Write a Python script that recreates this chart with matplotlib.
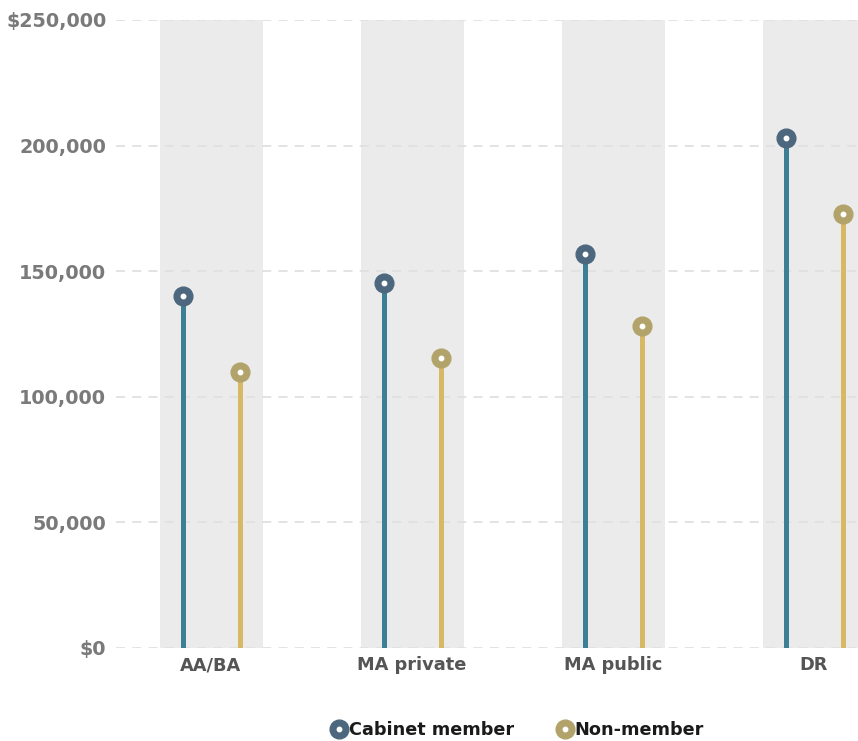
import matplotlib
matplotlib.use("Agg")
import matplotlib.pyplot as plt
from matplotlib.lines import Line2D
import numpy as np

categories = ["AA/BA", "MA private", "MA public", "DR"]
cabinet = [140000, 145500, 157000, 203000]
non_member = [110000, 115500, 128000, 172800]
y_ticks = [0, 50000, 100000, 150000, 200000, 250000]
y_labels = ["$0", "50,000", "100,000", "150,000", "200,000", "$250,000"]

cab_stem = "#3d8096"
cab_mark = "#4d687e"
non_stem = "#d6b865"
non_mark = "#b2a36b"

W, H = 858, 741
fig = plt.figure(figsize=(W / 100, H / 100), dpi=100)
left_px, right_px, top_px, bot_px = 116, 858, 20, 648
ax = fig.add_axes([left_px / W, (H - bot_px) / H, (right_px - left_px) / W, (bot_px - top_px) / H])

spacing = 201.0
x0 = (left_px - 211) / spacing
x1 = (right_px - 211) / spacing
ax.set_xlim(x0, x1)
ax.set_ylim(0, 250000)

x = np.arange(len(categories))
half = 51.5 / spacing
off = 28.5 / spacing
for xi in x:
    ax.axvspan(xi - half, xi + half, color="#ebebeb", zorder=0, lw=0)

for yt in y_ticks:
    ax.axhline(yt, color="#e0e0e0", lw=1.3, ls=(0, (5, 4)), zorder=1)

ax.vlines(x - off, 0, cabinet, color=cab_stem, lw=3.6, zorder=2)
ax.vlines(x + off, 0, non_member, color=non_stem, lw=3.6, zorder=2)
ax.plot(x - off, cabinet, "o", ms=13.5, mfc=cab_mark, mec=cab_mark, zorder=3, clip_on=False)
ax.plot(x + off, non_member, "o", ms=13.5, mfc=non_mark, mec=non_mark, zorder=3, clip_on=False)
ax.plot(x - off, cabinet, "o", ms=3.2, mfc="white", mec="white", zorder=4, clip_on=False)
ax.plot(x + off, non_member, "o", ms=3.2, mfc="white", mec="white", zorder=4, clip_on=False)

for s in ax.spines.values():
    s.set_visible(False)
ax.set_yticks(y_ticks)
ax.set_yticklabels(y_labels, fontsize=13.8, fontweight="bold", color="#7a7a7a")
ax.set_xticks(x)
ax.set_xticklabels(categories, fontsize=12.8, fontweight="bold", color="#555555")
ax.tick_params(axis="both", length=0)
ax.tick_params(axis="y", pad=7)
ax.tick_params(axis="x", pad=6)

def dot_handle(color):
    outer = Line2D([], [], marker="o", ls="", ms=13.5, mfc=color, mec=color)
    inner = Line2D([], [], marker="o", ls="", ms=3.2, mfc="white", mec="white")
    return (outer, inner)

leg = fig.legend([dot_handle(cab_mark), dot_handle(non_mark)], ["Cabinet member", "Non-member"],
                 loc="center", bbox_to_anchor=(517 / W, 1 - 730 / H), ncol=2, frameon=False,
                 handletextpad=0.05, columnspacing=2.4, handlelength=1.0,
                 prop={"weight": "bold", "size": 12.7})
for t in leg.get_texts():
    t.set_color("#1a1a1a")

fig.savefig("out.png", dpi=100)
